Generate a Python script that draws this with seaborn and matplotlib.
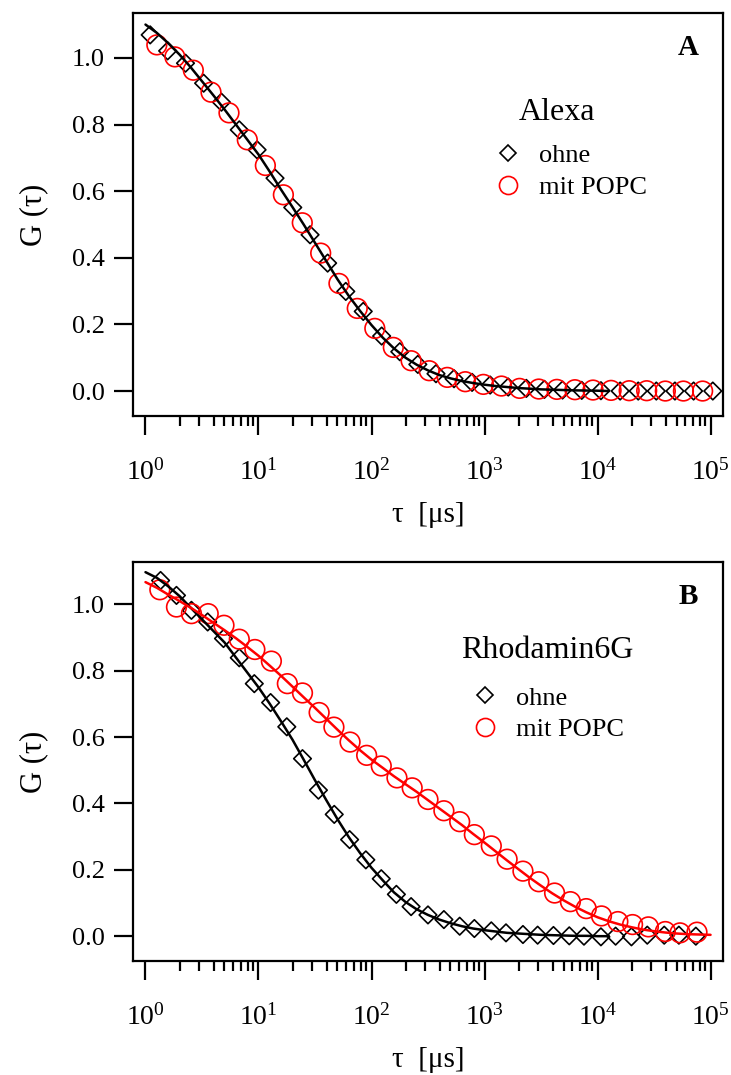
import matplotlib
matplotlib.use("Agg")
import matplotlib.pyplot as plt
import seaborn as sns
from matplotlib.lines import Line2D
from matplotlib.ticker import NullFormatter, FixedLocator, FixedFormatter

# ---------------- data ----------------
# Panel A: Alexa
tau_A_ohne = [1.10, 1.57, 2.26, 3.27, 4.70, 6.76, 9.72, 14.0, 20.1, 28.6, 40.9, 59.2, 84.5,
              123, 178, 257, 372, 537, 776, 1122, 1622, 2344, 3388, 4898, 7244, 10715,
              15849, 22909, 33113, 48417, 70795, 104713]
G_A_ohne = [1.069, 1.021, 0.984, 0.924, 0.867, 0.784, 0.724, 0.639, 0.551, 0.469, 0.384, 0.299, 0.239,
            0.165, 0.118, 0.080, 0.052, 0.037, 0.026, 0.018, 0.012, 0.008, 0.005, 0.003, 0.002, 0.001,
            0.0, 0.0, 0.0, 0.0, 0.0, 0.0]
tau_A_popc = [1.26, 1.82, 2.65, 3.80, 5.48, 7.96, 11.5, 16.6, 24.4, 35.5, 51.5, 74.8, 107,
              156, 224, 324, 468, 676, 977, 1413, 2042, 3020, 4365, 6310, 9120, 13183,
              19055, 27227, 39811, 57544, 85114]
G_A_popc = [1.039, 1.003, 0.963, 0.897, 0.835, 0.754, 0.677, 0.589, 0.505, 0.414, 0.323, 0.248, 0.188,
            0.131, 0.091, 0.061, 0.041, 0.028, 0.020, 0.015, 0.008, 0.006, 0.005, 0.004, 0.003, 0.002,
            0.001, 0.001, 0.0, 0.0, 0.0]
tau_fit_A = [1.0, 1.26, 1.58, 2.0, 2.51, 3.16, 3.98, 5.01, 6.31, 7.94,
             10, 12.6, 15.8, 20.0, 25.1, 31.6, 39.8, 50.1, 63.1, 79.4,
             100, 126, 158, 200, 251, 316, 398, 501, 631, 794,
             1000, 1259, 1585, 1995, 2512, 3162, 3981, 5012, 6310, 7943,
             10000, 12589]
G_fit_A = [1.10, 1.075, 1.045, 1.01, 0.972, 0.93, 0.888, 0.845, 0.80, 0.755,
           0.71, 0.658, 0.605, 0.552, 0.50, 0.445, 0.39, 0.335, 0.285, 0.24,
           0.198, 0.16, 0.128, 0.10, 0.079, 0.062, 0.048, 0.038, 0.030, 0.024,
           0.019, 0.015, 0.012, 0.009, 0.007, 0.005, 0.004, 0.003, 0.002, 0.0015,
           0.001, 0.0]

# Panel B: Rhodamin6G
tau_B_ohne = [1.36, 1.88, 2.55, 3.55, 4.90, 6.76, 9.18, 12.8, 17.8, 24.5, 33.9, 46.8, 64.0, 89.1,
              122, 166, 224, 316, 437, 603, 813, 1148, 1549, 2188, 2951, 4074, 5623, 7586,
              10715, 14454, 19953, 27542, 38905, 52481, 74131]
G_B_ohne = [1.072, 1.027, 0.982, 0.947, 0.897, 0.839, 0.761, 0.704, 0.631, 0.535, 0.440, 0.367, 0.291, 0.230,
            0.173, 0.126, 0.089, 0.064, 0.050, 0.030, 0.023, 0.016, 0.010, 0.005, 0.003, 0.002, 0.001, 0.0,
            -0.002, 0.0, -0.002, 0.003, 0.003, 0.003, 0.0]
tau_B_popc = [1.34, 1.88, 2.55, 3.59, 4.95, 6.76, 9.29, 13.0, 18.0, 24.5, 34.4, 46.5, 64.6, 90.6,
              122, 168, 229, 316, 437, 603, 813, 1148, 1585, 2188, 3020, 4169, 5754, 7943,
              10839, 15136, 20417, 28184, 39811, 53703, 75858]
G_B_popc = [1.044, 0.992, 0.972, 0.972, 0.937, 0.895, 0.864, 0.829, 0.761, 0.733, 0.674, 0.630, 0.585, 0.545,
            0.513, 0.477, 0.447, 0.412, 0.378, 0.345, 0.306, 0.272, 0.232, 0.196, 0.164, 0.130, 0.104, 0.083,
            0.061, 0.044, 0.035, 0.028, 0.014, 0.010, 0.012]
tau_fit_B_ohne = tau_fit_A
G_fit_B_ohne = [1.097, 1.08, 1.055, 1.025, 0.99, 0.955, 0.92, 0.885, 0.84, 0.795,
                0.75, 0.70, 0.648, 0.592, 0.532, 0.47, 0.41, 0.352, 0.298, 0.25,
                0.206, 0.168, 0.132, 0.103, 0.081, 0.064, 0.05, 0.039, 0.030, 0.023,
                0.018, 0.014, 0.010, 0.008, 0.006, 0.004, 0.003, 0.002, 0.001, 0.001,
                0.0, 0.0]
tau_fit_B_popc = [1.0, 1.26, 1.58, 2.0, 2.51, 3.16, 3.98, 5.01, 6.31, 7.94,
                  10, 12.6, 15.8, 20.0, 25.1, 31.6, 39.8, 50.1, 63.1, 79.4,
                  100, 126, 158, 200, 251, 316, 398, 501, 631, 794,
                  1000, 1259, 1585, 1995, 2512, 3162, 3981, 5012, 6310, 7943,
                  10000, 12589, 15849, 19953, 25119, 31623, 39811, 50119, 63096, 79433,
                  100000]
G_fit_B_popc = [1.067, 1.05, 1.03, 1.01, 0.99, 0.968, 0.945, 0.922, 0.898, 0.872,
                0.845, 0.815, 0.785, 0.752, 0.72, 0.688, 0.655, 0.622, 0.59, 0.56,
                0.532, 0.507, 0.482, 0.458, 0.435, 0.41, 0.385, 0.36, 0.335, 0.308,
                0.282, 0.255, 0.228, 0.202, 0.176, 0.152, 0.129, 0.108, 0.089, 0.072,
                0.057, 0.045, 0.035, 0.027, 0.02, 0.015, 0.011, 0.008, 0.006, 0.005,
                0.004]

series_labels = ["ohne", "mit POPC"]
x_ticks = [1, 10, 100, 1000, 10000, 100000]
x_ticklabels = [r"$\mathregular{10^{0}}$", r"$\mathregular{10^{1}}$", r"$\mathregular{10^{2}}$",
                r"$\mathregular{10^{3}}$", r"$\mathregular{10^{4}}$", r"$\mathregular{10^{5}}$"]
y_ticks = [0.0, 0.2, 0.4, 0.6, 0.8, 1.0]
y_ticklabels = ["0.0", "0.2", "0.4", "0.6", "0.8", "1.0"]

# ---------------- style ----------------
sns.set_style("ticks")
plt.rcParams['font.family'] = ['Liberation Serif', 'DejaVu Serif']
plt.rcParams['mathtext.fontset'] = 'custom'
plt.rcParams['mathtext.rm'] = 'Liberation Serif'
plt.rcParams['mathtext.it'] = 'Liberation Serif:italic'
plt.rcParams['mathtext.bf'] = 'Liberation Serif:bold'
plt.rcParams['text.color'] = 'black'
plt.rcParams['axes.labelcolor'] = 'black'
plt.rcParams['xtick.color'] = 'black'
plt.rcParams['ytick.color'] = 'black'

RED = "#ff0000"
BLACK = "#000000"

minor_x = [m * d for d in [1, 10, 100, 1000, 10000] for m in [2, 3, 4, 5, 6, 7, 8, 9]]

fig = plt.figure(figsize=(7.31, 10.75), dpi=100)
axA = fig.add_axes([0.182, 0.613, 0.807, 0.375])
axB = fig.add_axes([0.182, 0.106, 0.807, 0.371])


def draw_panel(ax, tau_d, g_d, tau_c, g_c, fits, title, letter, ylim, leg_title_xy, leg_anchor):
    sns.scatterplot(x=tau_d, y=g_d, marker='D', s=80, facecolors='none', edgecolors=BLACK,
                    linewidths=1.2, ax=ax, zorder=2)
    sns.scatterplot(x=tau_c, y=g_c, marker='o', s=200, facecolors='none', edgecolors=RED,
                    linewidths=1.2, ax=ax, zorder=2)
    for tx, gy, col in fits:
        sns.lineplot(x=tx, y=gy, color=col, lw=1.8, ax=ax, sort=False, estimator=None, zorder=3)

    ax.set_xscale('log')
    ax.set_xlim(0.776, 128800)
    ax.set_ylim(*ylim)
    ax.xaxis.set_major_locator(FixedLocator(x_ticks))
    ax.xaxis.set_major_formatter(FixedFormatter(x_ticklabels))
    ax.xaxis.set_minor_locator(FixedLocator(minor_x))
    ax.xaxis.set_minor_formatter(NullFormatter())
    ax.set_yticks(y_ticks)
    ax.set_yticklabels(y_ticklabels)
    ax.tick_params(axis='x', which='major', direction='out', length=14, width=1.6, pad=17,
                   labelsize=20, color=BLACK, labelcolor=BLACK)
    ax.tick_params(axis='x', which='minor', direction='out', length=7.5, width=1.6, color=BLACK)
    ax.tick_params(axis='y', which='major', direction='out', length=13.5, width=1.6, pad=7,
                   labelsize=19, color=BLACK, labelcolor=BLACK)
    for sp in ax.spines.values():
        sp.set_visible(True)
        sp.set_linewidth(1.6)
        sp.set_color(BLACK)
    ax.set_xlabel("τ  [μs]", fontsize=21, labelpad=12)
    ax.set_ylabel("G (τ)", fontsize=22, labelpad=17)
    ax.text(0.942, 0.913, letter, transform=ax.transAxes, fontsize=21, fontweight='bold',
            ha='center', va='center')
    ax.text(leg_title_xy[0], leg_title_xy[1], title, transform=ax.transAxes, fontsize=23,
            ha='center', va='center')
    handles = [Line2D([], [], ls='none', marker='D', ms=8.5, mfc='none', mec=BLACK, mew=1.2),
               Line2D([], [], ls='none', marker='o', ms=13, mfc='none', mec=RED, mew=1.2)]
    ax.legend(handles, series_labels, loc='upper left', bbox_to_anchor=leg_anchor,
              frameon=False, fontsize=19, handletextpad=0.6, labelspacing=0.31,
              handlelength=1.2, borderpad=0, borderaxespad=0)


draw_panel(axA, tau_A_ohne, G_A_ohne, tau_A_popc, G_A_popc,
           [(tau_fit_A, G_fit_A, BLACK)],
           "Alexa", "A", (-0.075, 1.135), (0.719, 0.754), (0.608, 0.675))
draw_panel(axB, tau_B_ohne, G_B_ohne, tau_B_popc, G_B_popc,
           [(tau_fit_B_ohne, G_fit_B_ohne, BLACK), (tau_fit_B_popc, G_fit_B_popc, RED)],
           "Rhodamin6G", "B", (-0.075, 1.127), (0.702, 0.779), (0.569, 0.689))

fig.savefig("out.png", dpi=100)
